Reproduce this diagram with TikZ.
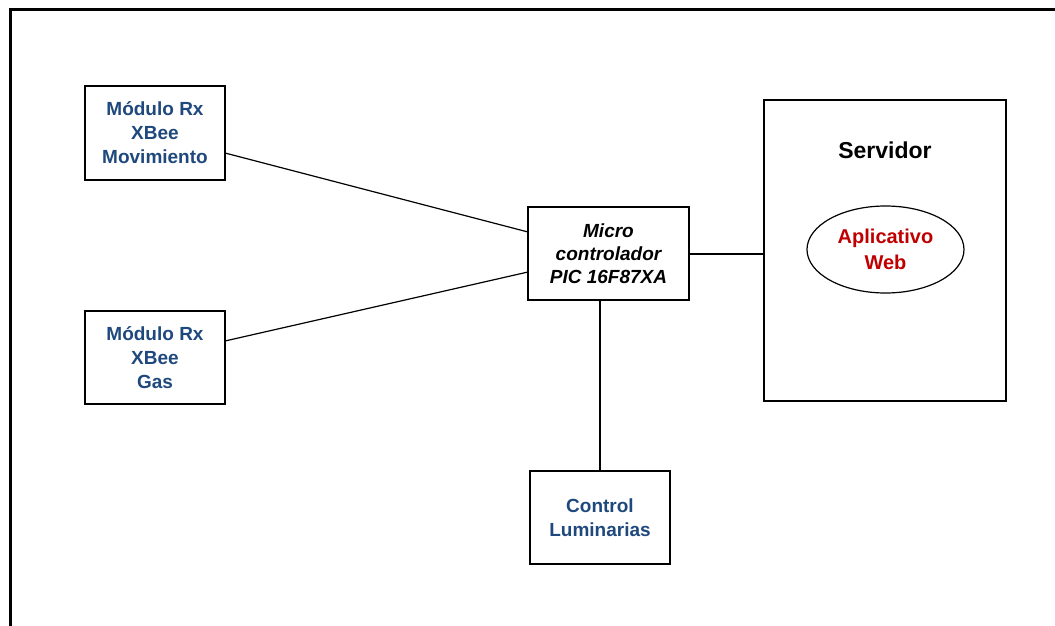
\documentclass[tikz,border=0pt]{standalone}
\usepackage{fontspec}
\setmainfont{Liberation Sans}
\usetikzlibrary{shapes.geometric}
\definecolor{boxblue}{RGB}{31,73,125}
\definecolor{appred}{RGB}{192,0,0}
\begin{document}
\begin{tikzpicture}[x=1pt,y=-1pt,
  block/.style={draw=black, line width=1.3pt, fill=white, inner sep=0pt, outer sep=0pt},
  link/.style={draw=black, line width=1.2pt},
  bluetext/.style={font=\fontsize{19}{24}\selectfont\bfseries, text=boxblue, align=center},
  microtext/.style={font=\fontsize{19}{23}\selectfont\bfseries\itshape, align=center},
]
\useasboundingbox (0,0) rectangle (1055,626);
\clip (0,0) rectangle (1055,626);
% outer frame, running off the right and bottom edges
\draw[line width=3pt] (10,700) -- (10,10) -- (1100,10);

% boxes
\node[block, minimum width=140pt, minimum height=94pt] (mov) at (155,133) {};
\node[block, minimum width=140pt, minimum height=93pt] (gas) at (155,357.5) {};
\node[block, minimum width=161pt, minimum height=93pt] (pic) at (608.5,253.5) {};
\node[block, minimum width=140pt, minimum height=93pt] (lum) at (600,517.5) {};
\node[block, minimum width=242pt, minimum height=301pt] (srv) at (885,250.5) {};
\node[draw=black, line width=1.2pt, ellipse, minimum width=157pt, minimum height=87pt, inner sep=0pt] (app) at (885.5,249.5) {};

% labels
\node[bluetext] (movtext) at (mov.center) {Módulo Rx\\XBee\\Movimiento};
\node[bluetext] (gastext) at (gas.center) {Módulo Rx\\XBee\\Gas};
\node[bluetext] (lumtext) at (lum.center) {Control\\Luminarias};
\node[microtext] (pictext) at (pic.center) {Micro\\controlador\\PIC 16F87XA};
\node[font=\fontsize{23}{28}\selectfont\bfseries] (srvtext) at (885,150) {Servidor};
\node[font=\fontsize{20}{26}\selectfont\bfseries, text=appred, align=center] (apptext) at (app.center) {Aplicativo\\Web};

% connectors
\draw[link] (mov.east |- 0,153) -- (pic.west |- 0,232);
\draw[link] (gas.east |- 0,341) -- (pic.west |- 0,272);
\draw[link] (pic.east |- 0,254) -- (srv.west |- 0,254);
\draw[link] (pic.south -| 600,0) -- (lum.north -| 600,0);
\end{tikzpicture}
\end{document}
